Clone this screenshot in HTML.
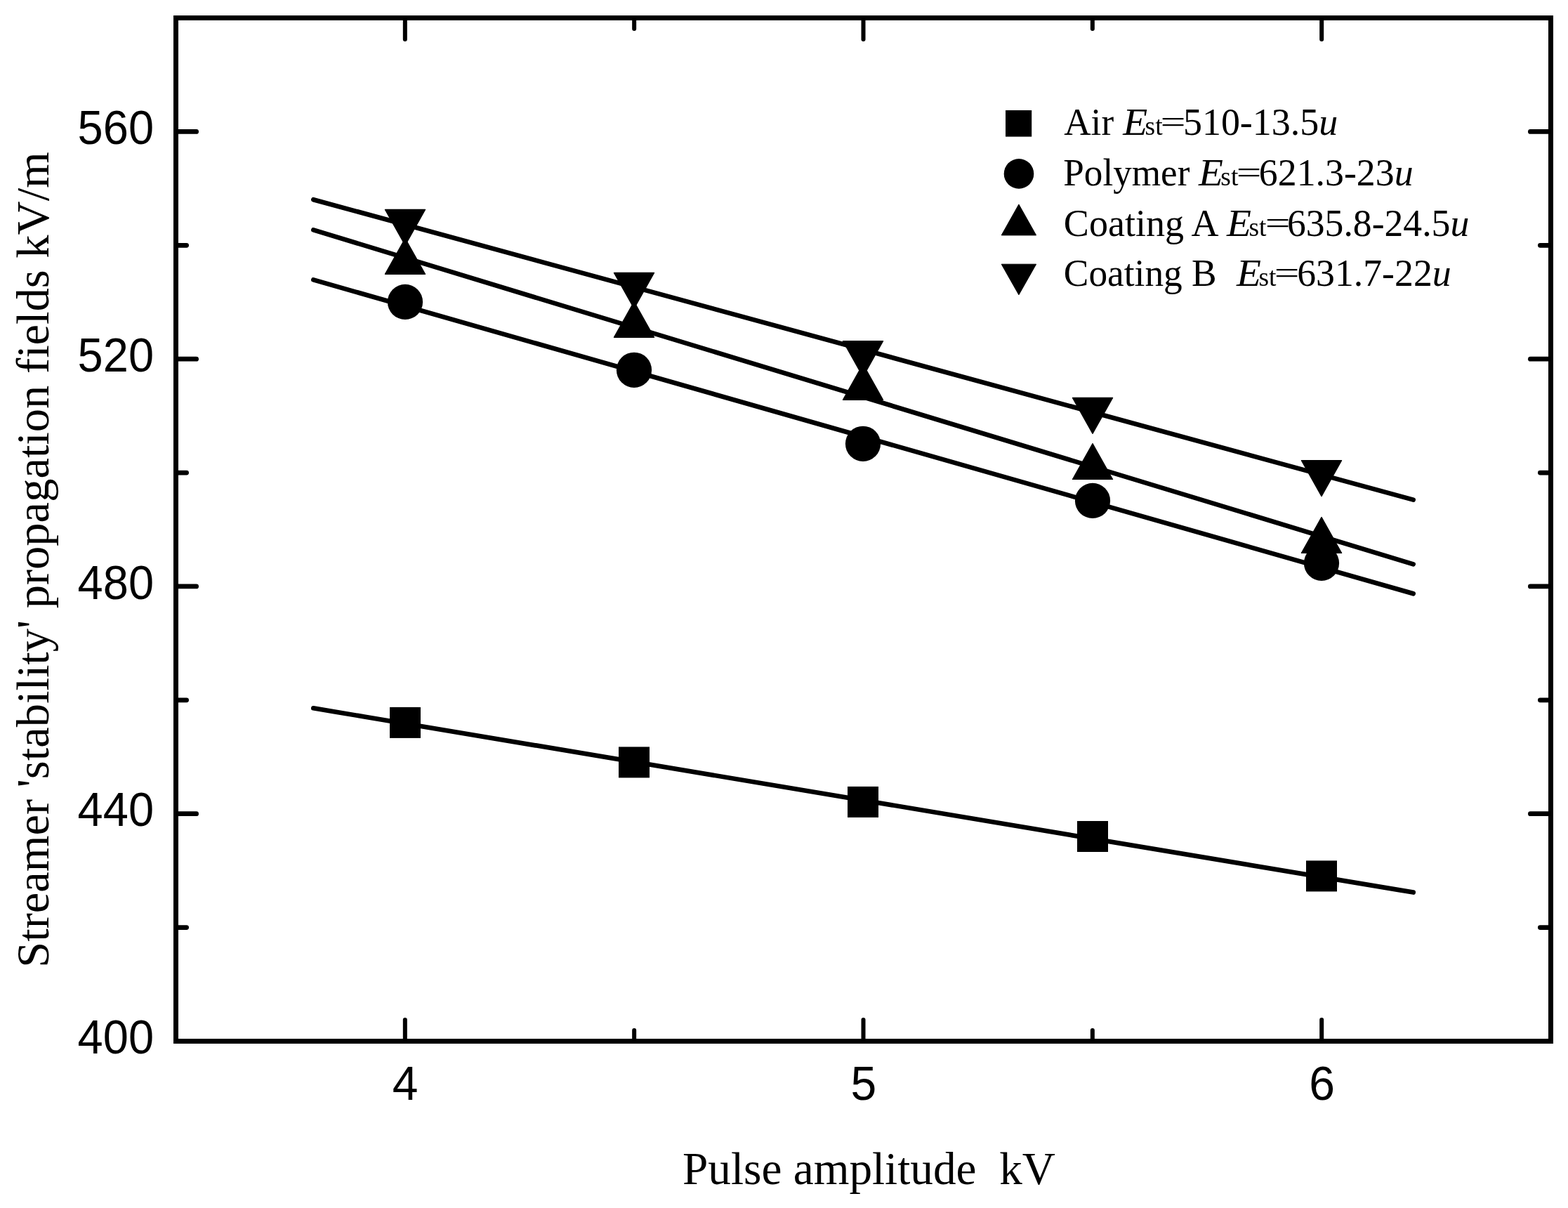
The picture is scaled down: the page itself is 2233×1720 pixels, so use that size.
<!DOCTYPE html>
<html lang="en"><head><meta charset="utf-8"><title>Streamer 'stability' propagation fields vs pulse amplitude</title>
<style>html,body{margin:0;padding:0;background:#fff;overflow:hidden;}svg{display:block;}</style></head>
<body><svg width="2233" height="1720" viewBox="0 0 2233 1720" fill="#000">
<rect width="2233" height="1720" fill="#fff"/>
<g id="frame">
<rect x="247" y="22" width="7" height="1464"/>
<rect x="2205" y="22" width="7" height="1464"/>
<rect x="247" y="22" width="1965" height="7"/>
<rect x="247" y="1479" width="1965" height="7"/>
</g><g id="ticks" stroke="#000" stroke-linecap="round" fill="none">
<line x1="252" y1="1320.61" x2="265.6" y2="1320.61" stroke-width="6.8"/>
<line x1="2207" y1="1320.61" x2="2193.4" y2="1320.61" stroke-width="6.8"/>
<line x1="252" y1="1158.72" x2="279.6" y2="1158.72" stroke-width="6.8"/>
<line x1="2207" y1="1158.72" x2="2179.4" y2="1158.72" stroke-width="6.8"/>
<line x1="252" y1="996.83" x2="265.6" y2="996.83" stroke-width="6.8"/>
<line x1="2207" y1="996.83" x2="2193.4" y2="996.83" stroke-width="6.8"/>
<line x1="252" y1="834.94" x2="279.6" y2="834.94" stroke-width="6.8"/>
<line x1="2207" y1="834.94" x2="2179.4" y2="834.94" stroke-width="6.8"/>
<line x1="252" y1="673.06" x2="265.6" y2="673.06" stroke-width="6.8"/>
<line x1="2207" y1="673.06" x2="2193.4" y2="673.06" stroke-width="6.8"/>
<line x1="252" y1="511.17" x2="279.6" y2="511.17" stroke-width="6.8"/>
<line x1="2207" y1="511.17" x2="2179.4" y2="511.17" stroke-width="6.8"/>
<line x1="252" y1="349.28" x2="265.6" y2="349.28" stroke-width="6.8"/>
<line x1="2207" y1="349.28" x2="2193.4" y2="349.28" stroke-width="6.8"/>
<line x1="252" y1="187.39" x2="279.6" y2="187.39" stroke-width="6.8"/>
<line x1="2207" y1="187.39" x2="2179.4" y2="187.39" stroke-width="6.8"/>
<line x1="576.83" y1="1481" x2="576.83" y2="1452" stroke-width="6"/>
<line x1="576.83" y1="27" x2="576.83" y2="56" stroke-width="6"/>
<line x1="903.17" y1="1481" x2="903.17" y2="1467" stroke-width="6"/>
<line x1="903.17" y1="27" x2="903.17" y2="41" stroke-width="6"/>
<line x1="1229.5" y1="1481" x2="1229.5" y2="1452" stroke-width="6"/>
<line x1="1229.5" y1="27" x2="1229.5" y2="56" stroke-width="6"/>
<line x1="1555.83" y1="1481" x2="1555.83" y2="1467" stroke-width="6"/>
<line x1="1555.83" y1="27" x2="1555.83" y2="41" stroke-width="6"/>
<line x1="1882.17" y1="1481" x2="1882.17" y2="1452" stroke-width="6"/>
<line x1="1882.17" y1="27" x2="1882.17" y2="56" stroke-width="6"/>
</g>
<g id="fits" stroke="#000" stroke-width="6.6" stroke-linecap="round" fill="none">
<line x1="446.3" y1="1008.36" x2="2012.7" y2="1270.62"/>
<line x1="446.3" y1="398.45" x2="2012.7" y2="845.27"/>
<line x1="446.3" y1="327.42" x2="2012.7" y2="803.38"/>
<line x1="446.3" y1="284.21" x2="2012.7" y2="711.6"/>
</g>
<g id="air">
<rect x="555" y="1006.9" width="44" height="44"/>
<rect x="881" y="1063.4" width="44" height="44"/>
<rect x="1207" y="1119.9" width="44" height="44"/>
<rect x="1534" y="1169" width="44" height="44"/>
<rect x="1860" y="1225.4" width="44" height="44"/>
</g><g id="polymer">
<circle cx="577" cy="429.9" r="25.1"/>
<circle cx="903" cy="526.8" r="25.1"/>
<circle cx="1229" cy="631.8" r="25.1"/>
<circle cx="1556" cy="712.9" r="25.1"/>
<circle cx="1882" cy="801.8" r="25.1"/>
</g><g id="coatingA" stroke="#000" stroke-width="1.2" stroke-linejoin="round">
<polygon points="548.4,390.3 605.6,390.3 577,339.3"/>
<polygon points="874.4,480.3 931.6,480.3 903,429.3"/>
<polygon points="1200.4,569.3 1257.6,569.3 1229,518.3"/>
<polygon points="1527.4,682.5 1584.6,682.5 1556,631.5"/>
<polygon points="1853.4,787.4 1910.6,787.4 1882,736.4"/>
</g><g id="coatingB" stroke="#000" stroke-width="1.2" stroke-linejoin="round">
<polygon points="548.4,298.4 605.6,298.4 577,349.4"/>
<polygon points="874.4,388.4 931.6,388.4 903,439.4"/>
<polygon points="1200.4,485.6 1257.6,485.6 1229,536.6"/>
<polygon points="1527.4,566.45 1584.6,566.45 1556,617.45"/>
<polygon points="1853.4,655.6 1910.6,655.6 1882,706.6"/>
</g>
<g id="ticklabels">
<text transform="translate(110.62,1500.1) scale(0.985,1.05)" font-family="'Liberation Sans', Arial, sans-serif" font-size="66">400</text>
<text transform="translate(110.62,1176.32) scale(0.985,1.05)" font-family="'Liberation Sans', Arial, sans-serif" font-size="66">440</text>
<text transform="translate(110.62,852.54) scale(0.985,1.05)" font-family="'Liberation Sans', Arial, sans-serif" font-size="66">480</text>
<text transform="translate(110.62,528.77) scale(0.985,1.05)" font-family="'Liberation Sans', Arial, sans-serif" font-size="66">520</text>
<text transform="translate(110.62,204.99) scale(0.985,1.05)" font-family="'Liberation Sans', Arial, sans-serif" font-size="66">560</text>
<text transform="translate(558.83,1566) scale(1,1.04)" font-family="'Liberation Sans', Arial, sans-serif" font-size="66">4</text>
<text transform="translate(1211.5,1566) scale(1,1.04)" font-family="'Liberation Sans', Arial, sans-serif" font-size="66">5</text>
<text transform="translate(1864.17,1566) scale(1,1.04)" font-family="'Liberation Sans', Arial, sans-serif" font-size="66">6</text>
</g>
<text transform="translate(972.02,1686.1) scale(0.9886,1.0000)" font-family="'Liberation Serif', 'Times New Roman', serif" font-size="66">Pulse amplitude  kV</text>
<text transform="translate(69.3,1377.83) rotate(-90) scale(1.0077,1)" font-family="'Liberation Serif', 'Times New Roman', serif" font-size="66">Streamer 'stability' propagation fields kV/m</text>
<g id="legend">
<rect x="1432" y="157" width="37.2" height="37.6"/>
<circle cx="1451" cy="247.4" r="21.3"/>
<polygon points="1426.2,334.9 1475.6,334.9 1450.9,291.0" stroke="#000" stroke-width="1" stroke-linejoin="round"/>
<polygon points="1426.2,376.2 1475.6,376.2 1450.9,419.8" stroke="#000" stroke-width="1" stroke-linejoin="round"/>
<text transform="translate(1515.23,191.9) scale(0.9667,1.0000)" font-family="'Liberation Serif', 'Times New Roman', serif" font-size="55">Air</text>
<text transform="translate(1599.2,191.9) scale(1.04,1.0)" font-family="'Liberation Serif', 'Times New Roman', serif" font-size="55" font-style="italic">E</text>
<text transform="translate(1630.61,191.9) scale(0.975,1.0)" font-family="'Liberation Serif', 'Times New Roman', serif" font-size="38.5">st</text>
<text transform="translate(1652.51,187.8) scale(1.1640,0.8000)" font-family="'Liberation Serif', 'Times New Roman', serif" font-size="55">=</text>
<text transform="translate(1684.96,191.9) scale(0.9808,1.0000)" font-family="'Liberation Serif', 'Times New Roman', serif" font-size="55">510-13.5<tspan font-style="italic">u</tspan></text>
<text transform="translate(1514.27,263.7) scale(0.9663,1.0000)" font-family="'Liberation Serif', 'Times New Roman', serif" font-size="55">Polymer</text>
<text transform="translate(1706.9,263.7) scale(1.04,1.0)" font-family="'Liberation Serif', 'Times New Roman', serif" font-size="55" font-style="italic">E</text>
<text transform="translate(1738.31,263.7) scale(0.975,1.0)" font-family="'Liberation Serif', 'Times New Roman', serif" font-size="38.5">st</text>
<text transform="translate(1760.64,259.6) scale(1.1520,0.8000)" font-family="'Liberation Serif', 'Times New Roman', serif" font-size="55">=</text>
<text transform="translate(1792.84,263.7) scale(0.9786,1.0000)" font-family="'Liberation Serif', 'Times New Roman', serif" font-size="55">621.3-23<tspan font-style="italic">u</tspan></text>
<text transform="translate(1514.83,335.8) scale(0.9829,1.0000)" font-family="'Liberation Serif', 'Times New Roman', serif" font-size="55">Coating A</text>
<text transform="translate(1747,335.8) scale(1.04,1.0)" font-family="'Liberation Serif', 'Times New Roman', serif" font-size="55" font-style="italic">E</text>
<text transform="translate(1778.41,335.8) scale(0.975,1.0)" font-family="'Liberation Serif', 'Times New Roman', serif" font-size="38.5">st</text>
<text transform="translate(1801.63,331.7) scale(1.1560,0.8000)" font-family="'Liberation Serif', 'Times New Roman', serif" font-size="55">=</text>
<text transform="translate(1832.95,335.8) scale(0.9756,1.0000)" font-family="'Liberation Serif', 'Times New Roman', serif" font-size="55">635.8-24.5<tspan font-style="italic">u</tspan></text>
<text transform="translate(1514.86,406.9) scale(0.9700,1.0000)" font-family="'Liberation Serif', 'Times New Roman', serif" font-size="55">Coating B</text>
<text transform="translate(1761,406.9) scale(1.04,1.0)" font-family="'Liberation Serif', 'Times New Roman', serif" font-size="55" font-style="italic">E</text>
<text transform="translate(1792.41,406.9) scale(0.975,1.0)" font-family="'Liberation Serif', 'Times New Roman', serif" font-size="38.5">st</text>
<text transform="translate(1814.74,402.8) scale(1.1520,0.8000)" font-family="'Liberation Serif', 'Times New Roman', serif" font-size="55">=</text>
<text transform="translate(1847.14,406.9) scale(0.9777,1.0000)" font-family="'Liberation Serif', 'Times New Roman', serif" font-size="55">631.7-22<tspan font-style="italic">u</tspan></text>
</g>
</svg></body></html>
